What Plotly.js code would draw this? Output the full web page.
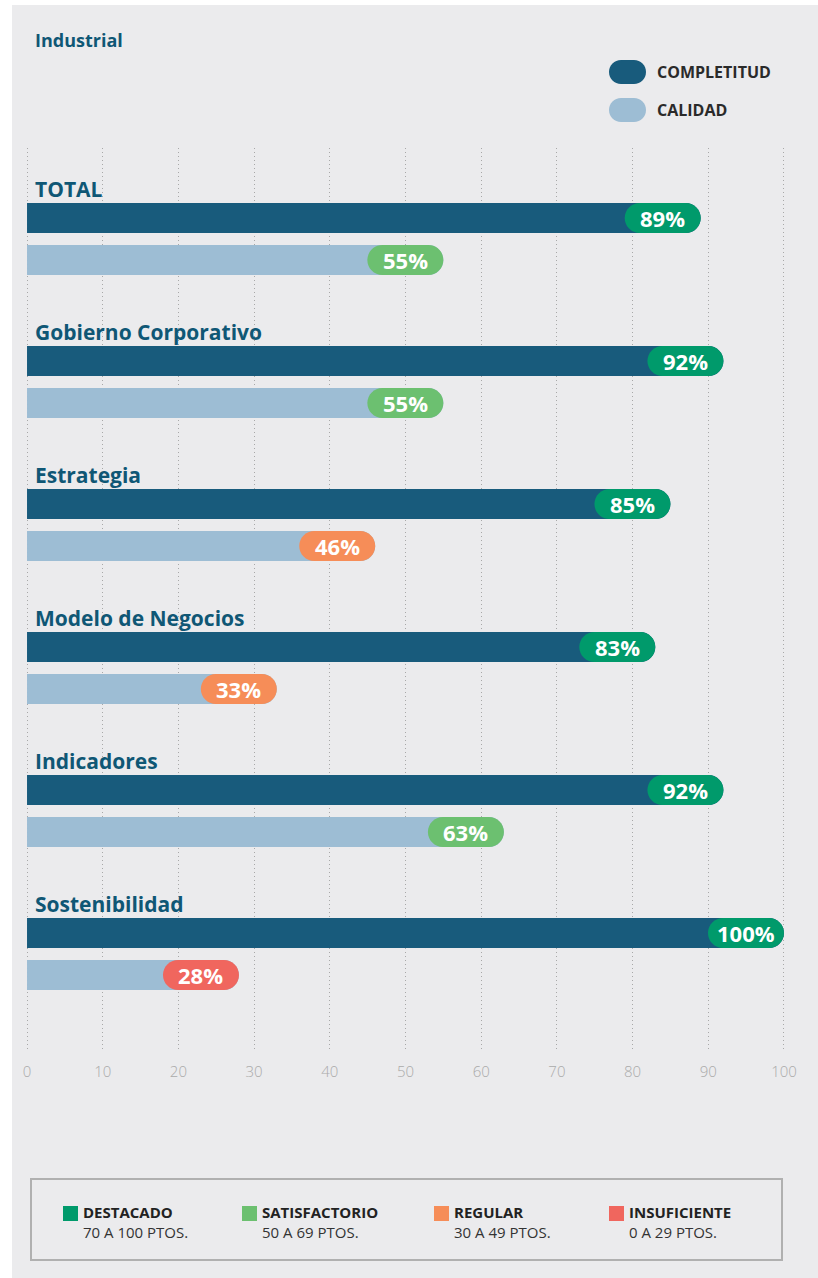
<!DOCTYPE html>
<html>
<head>
<meta charset="utf-8">
<script src="https://cdn.plot.ly/plotly-3.0.1.min.js"></script>
<style>
  html, body { margin: 0; padding: 0; background: #ffffff; width: 818px; height: 1278px; overflow: hidden; }
  #chart { position: absolute; left: 12px; top: 5px; width: 806px; height: 1273px; }
</style>
</head>
<body>
<div id="chart"></div>
<script>
// ---- Data ----
const categories = ['TOTAL', 'Gobierno Corporativo', 'Estrategia', 'Modelo de Negocios', 'Indicadores', 'Sostenibilidad'];
const completitud = [89, 92, 85, 83, 92, 100];
const calidad = [55, 55, 46, 33, 63, 28];
const seriesNames = ['COMPLETITUD', 'CALIDAD'];
const xTickVals = [0, 10, 20, 30, 40, 50, 60, 70, 80, 90, 100];
const levelNames = ['DESTACADO', 'SATISFACTORIO', 'REGULAR', 'INSUFICIENTE'];
const levelRanges = ['70 A 100 PTOS.', '50 A 69 PTOS.', '30 A 49 PTOS.', '0 A 29 PTOS.'];
const levelMin = [70, 50, 30, 0];

// ---- Styles ----
const FONT = '"Open Sans", "Noto Sans", sans-serif';
const TITLE_COLOR = '#0f5775';
const DARK = '#185b7c';
const LIGHT = '#9dbdd4';
const levelColors = ['#009a6b', '#6cc070', '#f68d58', '#f0665e'];
const calOffset = 0.2937;
const barW = 0.21;
const pillW = 76, pillH = 30;

function levelColor(v) {
  for (let i = 0; i < levelMin.length; i++) if (v >= levelMin[i]) return levelColors[i];
  return levelColors[levelColors.length - 1];
}
function roundRect(x0, x1, y0, y1) {
  const r = (y1 - y0) / 2, k = 0.5523 * r, yc = (y0 + y1) / 2;
  return `M ${x0 + r},${y0} L ${x1 - r},${y0} C ${x1 - r + k},${y0} ${x1},${yc - k} ${x1},${yc} ` +
         `C ${x1},${yc + k} ${x1 - r + k},${y1} ${x1 - r},${y1} L ${x0 + r},${y1} ` +
         `C ${x0 + r - k},${y1} ${x0},${yc + k} ${x0},${yc} C ${x0},${yc - k} ${x0 + r - k},${y0} ${x0 + r},${y0} Z`;
}
// plot area in page pixels: x 24..787 (range -0.4..100.4), y 148..1050
const PX0 = 24, PW = 763, PY1 = 1050, PH = 902;
const px = x => (x - PX0) / PW;
const py = y => (PY1 - y) / PH;

const yComp = categories.map((c, i) => i);
const yCal = categories.map((c, i) => i + calOffset);

const traces = [
  { type: 'bar', orientation: 'h', name: seriesNames[0], x: completitud, y: yComp, width: barW,
    marker: { color: DARK, line: { width: 0 }, cornerradius: 15 }, hoverinfo: 'skip' },
  { type: 'bar', orientation: 'h', name: seriesNames[1], x: calidad, y: yCal, width: barW,
    marker: { color: LIGHT, line: { width: 0 }, cornerradius: 15 }, hoverinfo: 'skip' }
];

const shapes = [];
const annotations = [];

// pills + labels
[[completitud, yComp], [calidad, yCal]].forEach(([vals, ys]) => {
  vals.forEach((v, i) => {
    shapes.push({ type: 'path', xref: 'x', yref: 'y', xsizemode: 'pixel', ysizemode: 'pixel',
      xanchor: v, yanchor: ys[i], path: roundRect(-pillW, 0, -pillH / 2, pillH / 2),
      fillcolor: levelColor(v), line: { width: 0 }, layer: 'above' });
    annotations.push({ xref: 'x', yref: 'y', x: v, y: ys[i], xshift: -pillW / 2, xanchor: 'center', yanchor: 'middle',
      text: v + '%', showarrow: false, font: { family: FONT, size: 22, color: '#ffffff', weight: 700 } });
  });
});

// category labels
categories.forEach((c, i) => {
  annotations.push({ xref: 'x', yref: 'y', x: 0, y: yComp[i], xshift: 6, yshift: 29, xanchor: 'left', yanchor: 'middle',
    text: c, showarrow: false, font: { family: FONT, size: 21, color: TITLE_COLOR, weight: 700 } });
});

// title
annotations.push({ xref: 'paper', yref: 'paper', x: px(33), y: py(40), xanchor: 'left', yanchor: 'middle',
  text: 'Industrial', showarrow: false, font: { family: FONT, size: 18, color: TITLE_COLOR, weight: 700 } });

// top legend
[[DARK, 72], [LIGHT, 110]].forEach(([col, yy], i) => {
  shapes.push({ type: 'path', xref: 'paper', yref: 'paper', xsizemode: 'pixel', ysizemode: 'pixel',
    xanchor: px(627.5), yanchor: py(yy), path: roundRect(-18.5, 18.5, -12, 12), fillcolor: col, line: { width: 0 } });
  annotations.push({ xref: 'paper', yref: 'paper', x: px(655), y: py(yy), xanchor: 'left', yanchor: 'middle',
    text: seriesNames[i], showarrow: false, font: { family: FONT, size: 16, color: '#2a2a2a', weight: 700 } });
});

// bottom legend box
shapes.push({ type: 'rect', xref: 'paper', yref: 'paper', x0: px(31), x1: px(782), y0: py(1260), y1: py(1179),
  line: { color: '#b0b0b0', width: 2 }, fillcolor: 'rgba(0,0,0,0)' });
const sqX = [63, 242, 434, 609];
levelNames.forEach((n, i) => {
  shapes.push({ type: 'rect', xref: 'paper', yref: 'paper', x0: px(sqX[i]), x1: px(sqX[i] + 15),
    y0: py(1221), y1: py(1206), fillcolor: levelColors[i], line: { width: 0 } });
  annotations.push({ xref: 'paper', yref: 'paper', x: px(sqX[i] + 18), y: py(1211.5), xanchor: 'left', yanchor: 'middle',
    text: n, showarrow: false, font: { family: FONT, size: 15, color: '#222222', weight: 700 } });
  annotations.push({ xref: 'paper', yref: 'paper', x: px(sqX[i] + 18), y: py(1232), xanchor: 'left', yanchor: 'middle',
    text: levelRanges[i], showarrow: false, font: { family: FONT, size: 15, color: '#333333', weight: 400 } });
});

const layout = {
  width: 806, height: 1273,
  margin: { l: 12, r: 31, t: 143, b: 228, pad: 0 },
  paper_bgcolor: '#ebebed', plot_bgcolor: 'rgba(0,0,0,0)',
  showlegend: false,
  barmode: 'overlay',
  xaxis: { range: [-0.4, 100.4], tickvals: xTickVals, showgrid: true, gridcolor: '#a8a8a8', griddash: '1px,3px', gridwidth: 1,
    zeroline: false, showline: false, ticks: 'outside', ticklen: 8, tickcolor: 'rgba(0,0,0,0)',
    tickfont: { family: FONT, size: 15, color: '#aaaaaa', weight: 300 }, fixedrange: true },
  yaxis: { range: [5.818, -0.4895], showgrid: false, zeroline: false, showticklabels: false, ticks: '', fixedrange: true },
  shapes: shapes,
  annotations: annotations
};

Plotly.newPlot('chart', traces, layout, { displayModeBar: false, staticPlot: true });
</script>
</body>
</html>
